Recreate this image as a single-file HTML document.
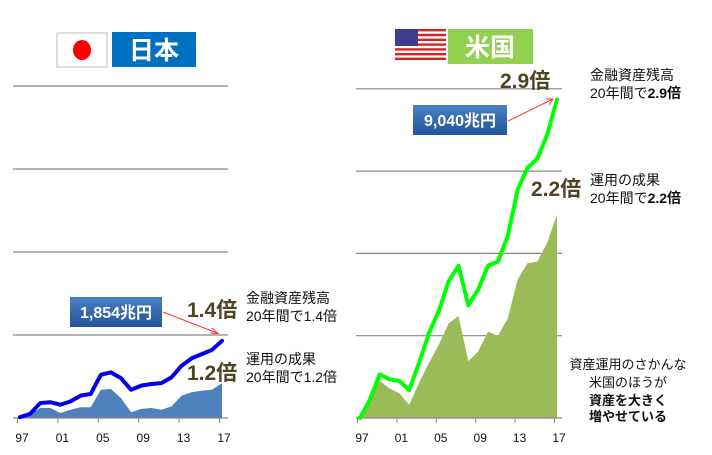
<!DOCTYPE html>
<html><head><meta charset="utf-8">
<style>
body{margin:0;background:#fff;width:712px;height:450px;overflow:hidden;font-family:"Liberation Sans","Noto Sans CJK JP",sans-serif;}
svg text{font-family:"Liberation Sans","Noto Sans CJK JP",sans-serif;}
</style></head><body>
<svg width="712" height="450" viewBox="0 0 712 450">
<defs>
<linearGradient id="bg" x1="0" y1="0" x2="0" y2="1"><stop offset="0" stop-color="#4a7fc4"/><stop offset="1" stop-color="#23549a"/></linearGradient>
</defs>
<g>
<rect x="57" y="33" width="50" height="34" fill="#fff" stroke="#bbb"/>
<ellipse cx="82" cy="50" rx="9" ry="10" fill="#f00"/>
<rect x="112" y="32" width="84" height="35" fill="#0070c0"/>
<text x="154" y="59" fill="#fff" font-size="25" font-weight="bold" text-anchor="middle">日本</text>
</g>
<g>
<g>
<rect x="395" y="29" width="51" height="31" fill="#fff"/>
<g fill="#d22">
<rect x="395" y="29" width="51" height="2.4"/><rect x="395" y="33.8" width="51" height="2.4"/><rect x="395" y="38.6" width="51" height="2.4"/><rect x="395" y="43.4" width="51" height="2.4"/><rect x="395" y="48.2" width="51" height="2.4"/><rect x="395" y="53" width="51" height="2.4"/><rect x="395" y="57.6" width="51" height="2.4"/>
</g>
<rect x="395" y="29" width="23" height="17" fill="#3c3b8e"/>
</g>
<rect x="448" y="29" width="85" height="35" fill="#92d050"/>
<text x="490" y="56" fill="#fff" font-size="25" font-weight="bold" text-anchor="middle">米国</text>
</g>
<g id="jp"></g>
<g id="us"></g>
<rect x="70" y="297" width="92" height="30" fill="url(#bg)"/>
<text x="116" y="318" fill="#fff" font-size="16" font-weight="bold" text-anchor="middle">1,854兆円</text>
<line x1="163" y1="312" x2="217" y2="333" stroke="#f33" stroke-width="1"/>
<path d="M210 333 L218 333.5 L212 328" fill="none" stroke="#f33"/>
<text x="187" y="317" fill="#4f4424" font-size="21" font-weight="bold">1.4倍</text>
<text x="187" y="380" fill="#4f4424" font-size="21" font-weight="bold">1.2倍</text>
<g font-size="14" fill="#111">
<text x="246" y="303">金融資産残高</text>
<text x="246" y="321">20年間で1.4倍</text>
<text x="246" y="364">運用の成果</text>
<text x="246" y="382">20年間で1.2倍</text>
</g>
<rect x="413" y="105" width="94" height="30" fill="url(#bg)"/>
<text x="460" y="126" fill="#fff" font-size="16" font-weight="bold" text-anchor="middle">9,040兆円</text>
<line x1="508" y1="121" x2="553" y2="99" stroke="#f33"/>
<path d="M546 99 L553 99 L549 105" fill="none" stroke="#f33"/>
<text x="500" y="88" fill="#4f4424" font-size="21" font-weight="bold">2.9倍</text>
<text x="531" y="196" fill="#4f4424" font-size="21" font-weight="bold">2.2倍</text>
<g font-size="14" fill="#111">
<text x="590" y="80">金融資産残高</text>
<text x="590" y="98">20年間で<tspan font-weight="bold">2.9倍</tspan></text>
<text x="590" y="185">運用の成果</text>
<text x="590" y="203">20年間で<tspan font-weight="bold">2.2倍</tspan></text>
</g>
<g font-size="13" fill="#111" text-anchor="middle">
<text x="628" y="369">資産運用のさかんな</text>
<text x="628" y="387">米国のほうが</text>
<text x="628" y="405" font-weight="bold">資産を大きく</text>
<text x="628" y="421" font-weight="bold">増やせている</text>
</g>
</svg>
<script>
const years = ["97","98","99","00","01","02","03","04","05","06","07","08","09","10","11","12","13","14","15","16","17"];
const tickLabels = ["97","01","05","09","13","17"];
const jpTotal = [0.01,0.05,0.18,0.19,0.16,0.2,0.27,0.29,0.52,0.55,0.48,0.34,0.39,0.41,0.42,0.49,0.63,0.72,0.77,0.82,0.93];
const jpReturn = [0.01,0.04,0.12,0.12,0.06,0.1,0.13,0.13,0.34,0.35,0.24,0.07,0.11,0.12,0.1,0.14,0.27,0.31,0.33,0.34,0.42];
const usTotal = [0,0.22,0.53,0.47,0.45,0.34,0.67,1.03,1.30,1.66,1.85,1.37,1.56,1.85,1.90,2.21,2.77,3.04,3.15,3.44,3.87];
const usReturn = [0,0.22,0.45,0.36,0.30,0.16,0.43,0.67,0.89,1.15,1.24,0.69,0.81,1.05,1.0,1.21,1.68,1.88,1.90,2.13,2.47];
const gridVals = [1,2,3,4];
const NS="http://www.w3.org/2000/svg";
function mk(p,t,a){const e=document.createElementNS(NS,t);for(const k in a)e.setAttribute(k,a[k]);p.appendChild(e);return e;}
function draw(g,cfg,total,ret,pref){
  const x=i=>cfg.x0+i*cfg.dx, y=v=>cfg.base-v*cfg.unit;
  gridVals.forEach((v,k)=>{const l=mk(g,'line',{x1:cfg.gx0,x2:cfg.gx1,y1:y(v),y2:y(v),stroke:'#888','stroke-width':1.2});
    
    });
  let d='M'+x(0)+' '+y(0);ret.forEach((v,i)=>d+=' L'+x(i)+' '+y(v));d+=' L'+x(ret.length-1)+' '+y(0)+'Z';
  const a=mk(g,'path',{d:d,fill:cfg.area});
  
  
  mk(g,'line',{x1:cfg.gx0,x2:cfg.gx1,y1:cfg.base,y2:cfg.base,stroke:'#888','stroke-width':1.2});
  tickLabels.forEach((t,k)=>{const i=years.indexOf(t);
    const tx=cfg.x0-2.5+k*4*cfg.dx;
    mk(g,'line',{x1:tx,x2:tx,y1:cfg.base,y2:cfg.base+5,stroke:'#888'});
    const tt=mk(g,'text',{x:x(i)+2,y:442,'font-size':12,'text-anchor':'middle',fill:'#111'});tt.textContent=t;
    
    });
  const pts=total.map((v,i)=>x(i)+','+y(v)).join(' ');
  const l=mk(g,'polyline',{points:pts,fill:'none',stroke:cfg.line,'stroke-width':4,'stroke-linejoin':'round','stroke-linecap':'round'});
  
  
}
draw(document.getElementById('jp'),{x0:20,dx:10.1,base:418,unit:83,gx0:13,gx1:228,area:'#4f81bd',line:'#0000ee'},jpTotal,jpReturn,'japan');
draw(document.getElementById('us'),{x0:360,dx:9.85,base:418,unit:82.3,gx0:356,gx1:562,area:'#9bbb59',line:'#00ff00'},usTotal,usReturn,'us');
</script>
</body></html>
